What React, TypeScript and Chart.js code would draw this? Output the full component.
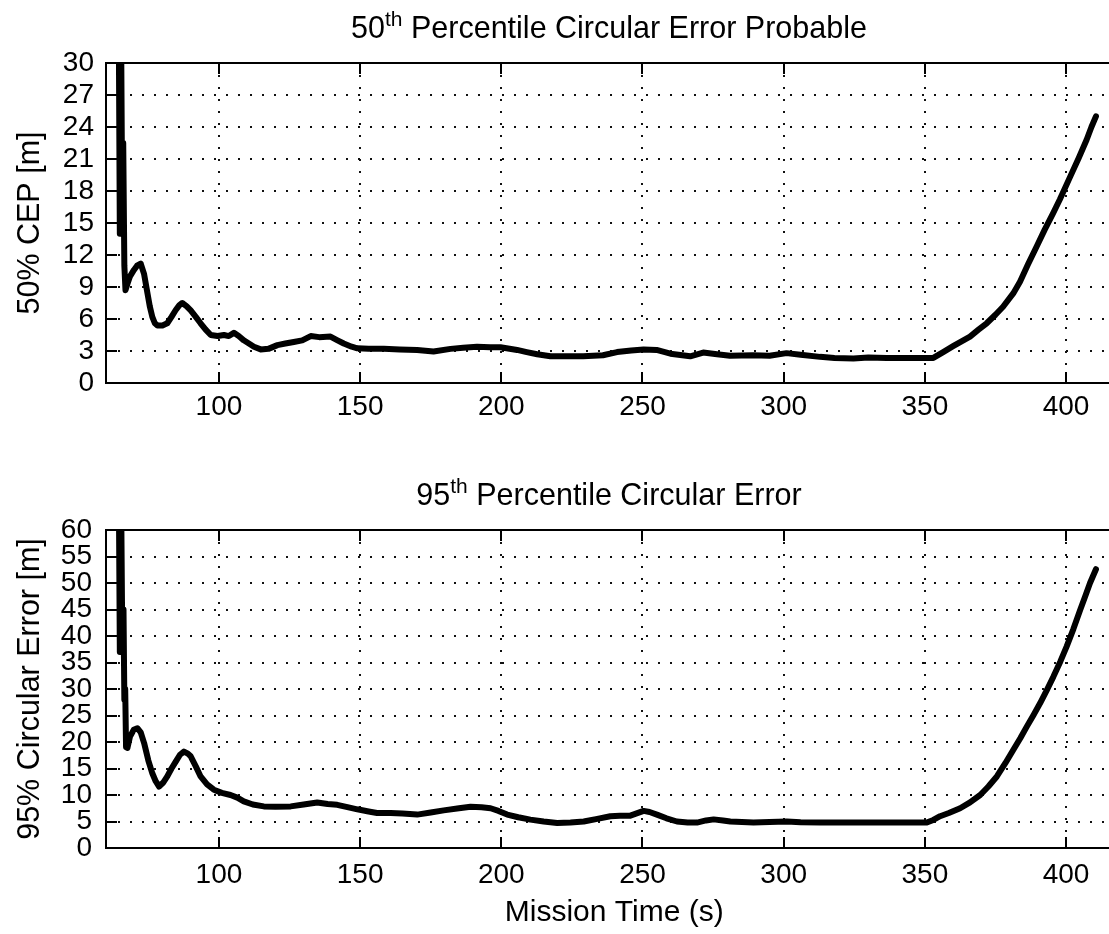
import React, { useEffect, useRef } from "react";
import { Chart, registerables } from "chart.js";

Chart.register(...registerables);

// ---------- data ----------
const timeTop = [
  64.4, 64.9, 65.3, 65.8, 66.1, 66.5, 66.9, 67.6, 68.5, 69.9, 71.0, 72.3, 73.5, 74.7, 75.5, 76.4, 77.3, 78.2,
  80.0, 81.7, 83.2, 84.7, 86.0, 87.0, 88.5, 90.0, 91.8, 93.5, 95.3, 97.1, 99.5, 101.8, 103.5, 105.3, 107.0,
  108.8, 110.6, 112.4, 114.8, 117.5, 120.7, 123.5, 126.5, 129.5, 132.5, 135.5, 139.5, 142.0, 144.2, 147.0,
  149.0, 153.0, 158.4, 164.0, 170.2, 176.0, 182.0, 186.5, 191.4, 196.0, 199.7, 205.6, 209.0, 212.7, 217.4,
  223.0, 229.0, 236.0, 241.0, 246.0, 250.4, 255.0, 259.9, 266.9, 271.5, 276.4, 281.0, 289.2, 295.0, 301.0,
  306.0, 312.9, 318.0, 324.7, 330.0, 336.5, 342.0, 348.3, 353.0, 356.5, 360.0, 363.0, 366.0, 369.0, 371.9,
  375.0, 377.7, 381.3, 383.7, 386.5, 389.6, 392.5, 395.4, 397.8, 401.4, 404.5, 407.3, 409.0, 410.6,
];
const cep50 = [
  40, 14, 35, 14, 22.5, 11, 8.7, 9.3, 10.0, 10.6, 11.0, 11.2, 10.2, 8.4, 7.2, 6.2, 5.6, 5.4,
  5.4, 5.6, 6.2, 6.84, 7.3, 7.5, 7.2, 6.8, 6.2, 5.6, 5.0, 4.5, 4.4, 4.5, 4.4, 4.7, 4.4,
  4.0, 3.7, 3.4, 3.15, 3.2, 3.55, 3.7, 3.85, 4.0, 4.4, 4.3, 4.35, 4.0, 3.7, 3.4,
  3.25, 3.2, 3.2, 3.15, 3.1, 2.95, 3.2, 3.3, 3.4, 3.35, 3.35, 3.1, 2.9, 2.7, 2.5,
  2.5, 2.5, 2.6, 2.9, 3.05, 3.15, 3.1, 2.75, 2.5, 2.85, 2.7, 2.55, 2.6, 2.55, 2.8,
  2.65, 2.45, 2.35, 2.3, 2.4, 2.35, 2.35, 2.35, 2.35, 2.9, 3.45, 3.9, 4.35, 5.0, 5.6,
  6.4, 7.15, 8.4, 9.5, 11.1, 12.8, 14.4, 15.9, 17.2, 19.3, 21.1, 22.8, 24.0, 25.0,
];

const timeBottom = [
  64.4, 64.9, 65.3, 65.8, 66.2, 66.5, 66.8, 67.1, 67.6, 68.5, 69.8, 71.1, 72.3, 73.5, 75.0, 76.4, 77.6, 78.8,
  80.2, 81.7, 83.2, 84.7, 86.2, 87.6, 89.0, 90.0, 91.8, 93.5, 95.8, 98.2, 101.0, 104.1, 106.5, 108.8,
  112.0, 115.9, 120.0, 125.4, 130.0, 134.8, 138.5, 141.9, 145.5, 149.0, 153.0, 156.0, 160.8, 165.0,
  170.2, 175.0, 179.6, 185.0, 189.1, 193.0, 196.2, 199.0, 202.1, 206.0, 210.3, 215.0, 219.8, 224.5,
  229.2, 234.0, 238.6, 242.0, 245.7, 250.4, 252.5, 255.1, 258.5, 262.2, 266.0, 269.3, 272.5, 275.2,
  278.5, 281.1, 289.3, 295.0, 301.1, 306.0, 312.9, 320.0, 328.0, 336.5, 344.0, 350.7, 353.0, 355.4,
  358.5, 362.5, 366.0, 369.6, 372.5, 375.5, 378.5, 381.3, 383.8, 386.1, 388.5, 390.8, 393.2, 395.5,
  398.0, 400.2, 402.6, 405.0, 406.8, 408.5, 410.6,
];
const ce95 = [
  80, 37, 70, 37, 45, 28, 30, 19, 18.9, 21, 22.3, 22.6, 21.8, 19.8, 16.5, 14.1, 12.6, 11.6,
  12.3, 13.5, 15.0, 16.3, 17.6, 18.2, 17.8, 17.3, 15.4, 13.5, 12.0, 11.0, 10.4, 10.0, 9.5, 8.8,
  8.2, 7.85, 7.8, 7.85, 8.2, 8.6, 8.3, 8.15, 7.7, 7.3, 6.9, 6.6, 6.6, 6.5,
  6.3, 6.7, 7.1, 7.5, 7.8, 7.7, 7.5, 7.0, 6.3, 5.8, 5.35, 5.0, 4.7, 4.8,
  5.0, 5.5, 6.0, 6.1, 6.1, 7.0, 6.8, 6.3, 5.6, 5.0, 4.8, 4.8, 5.2, 5.4,
  5.2, 5.0, 4.8, 4.9, 5.0, 4.85, 4.8, 4.8, 4.8, 4.8, 4.8, 4.8, 5.3, 6.0,
  6.6, 7.5, 8.6, 10.0, 11.6, 13.5, 16.0, 18.5, 20.7, 22.9, 25.1, 27.3, 29.8, 32.3,
  35.2, 38.0, 41.3, 44.9, 47.5, 50.0, 52.6,
];

const xTicks = [100, 150, 200, 250, 300, 350, 400];
const yTicksTop = [0, 3, 6, 9, 12, 15, 18, 21, 24, 27, 30];
const yTicksBottom = [0, 5, 10, 15, 20, 25, 30, 35, 40, 45, 50, 55, 60];

const titleTop = ["50", "th", " Percentile Circular Error Probable"];
const titleBottom = ["95", "th", " Percentile Circular Error"];
const yLabelTop = "50% CEP [m]";
const yLabelBottom = "95% Circular Error [m]";
const xLabelBottom = "Mission Time (s)";

// ---------- styling ----------
const FONT = "'Liberation Sans', Arial, Helvetica, sans-serif";
const CANVAS_W = 1130;
const AREA_LEFT = 106;
const AREA_RIGHT = 1122.5;
const X_MIN = 60;
const X_MAX = 420;

const matlabPlugin = {
  id: "matlabAxes",
  afterDraw(chart: any, _args: any, opts: any) {
    const { ctx, chartArea: a, scales } = chart;
    ctx.save();
    ctx.setLineDash([]);
    ctx.strokeStyle = "#000";
    ctx.lineWidth = 2;
    ctx.strokeRect(a.left, a.top, a.right - a.left, a.bottom - a.top);
    const tl = 11;
    ctx.beginPath();
    scales.x.ticks.forEach((t: any) => {
      const px = Math.round(scales.x.getPixelForValue(t.value));
      ctx.moveTo(px, a.bottom);
      ctx.lineTo(px, a.bottom - tl);
      ctx.moveTo(px, a.top);
      ctx.lineTo(px, a.top + tl);
    });
    scales.y.ticks.forEach((t: any) => {
      const py = Math.round(scales.y.getPixelForValue(t.value));
      ctx.moveTo(a.left, py);
      ctx.lineTo(a.left + tl, py);
      ctx.moveTo(a.right, py);
      ctx.lineTo(a.right - tl, py);
    });
    ctx.stroke();

    // title with superscript
    const parts: string[] = opts.title;
    const big = `30.5px ${FONT}`;
    const small = `21px ${FONT}`;
    ctx.fillStyle = "#000";
    ctx.textBaseline = "alphabetic";
    ctx.textAlign = "left";
    ctx.font = big;
    const w0 = ctx.measureText(parts[0]).width;
    const w2 = ctx.measureText(parts[2]).width;
    ctx.font = small;
    const w1 = ctx.measureText(parts[1]).width;
    const total = w0 + w1 + w2;
    let x = opts.centerX - total / 2;
    const y = opts.baseline;
    ctx.font = big;
    ctx.fillText(parts[0], x, y);
    x += w0;
    ctx.font = small;
    ctx.fillText(parts[1], x, y - 12);
    x += w1;
    ctx.font = big;
    ctx.fillText(parts[2], x, y);
    ctx.restore();
  },
};

function makeConfig(p: {
  times: number[];
  values: number[];
  yTicks: number[];
  yMax: number;
  yLabel: string;
  xLabel: string | null;
  title: string[];
  height: number;
  areaTop: number;
  areaBottom: number;
  xTickPad: number;
  yTickPad: number;
  titleBaseline: number;
}): any {
  const points = p.times.map((t, i) => ({ x: t, y: p.values[i] }));
  return {
    type: "line",
    data: {
      datasets: [
        {
          data: points,
          borderColor: "#000",
          borderWidth: 6,
          pointRadius: 0,
          tension: 0,
          clip: 0,
          borderJoinStyle: "round",
          borderCapStyle: "round",
        },
      ],
    },
    plugins: [matlabPlugin],
    options: {
      animation: false,
      responsive: false,
      devicePixelRatio: 1,
      layout: {
        padding: { top: p.areaTop, left: 0, right: CANVAS_W - AREA_RIGHT, bottom: 0 },
      },
      plugins: {
        legend: { display: false },
        tooltip: { enabled: false },
        matlabAxes: { title: p.title, baseline: p.titleBaseline, centerX: 609 },
      },
      scales: {
        x: {
          type: "linear",
          min: X_MIN,
          max: X_MAX,
          afterBuildTicks: (axis: any) => {
            axis.ticks = xTicks.map((v) => ({ value: v }));
          },
          afterFit: (axis: any) => {
            axis.height = p.height - p.areaBottom;
          },
          ticks: {
            autoSkip: false,
            maxRotation: 0,
            padding: p.xTickPad,
            color: "#000",
            font: { family: FONT, size: 28 },
          },
          grid: { color: "#111", lineWidth: 2, drawTicks: false },
          border: { display: false, dash: [2, 10] },
          title: p.xLabel
            ? {
                display: true,
                text: p.xLabel,
                color: "#000",
                font: { family: FONT, size: 30 },
                padding: { top: 0, bottom: 3 },
              }
            : { display: false },
        },
        y: {
          type: "linear",
          min: 0,
          max: p.yMax,
          afterBuildTicks: (axis: any) => {
            axis.ticks = p.yTicks.map((v) => ({ value: v }));
          },
          afterFit: (axis: any) => {
            axis.width = AREA_LEFT;
          },
          ticks: {
            autoSkip: false,
            padding: p.yTickPad,
            color: "#000",
            font: { family: FONT, size: 28 },
          },
          grid: { color: "#111", lineWidth: 2, drawTicks: false },
          border: { display: false, dash: [2, 10] },
          title: {
            display: true,
            text: p.yLabel,
            color: "#000",
            font: { family: FONT, size: 30.5 },
            padding: { top: 12, bottom: 0 },
          },
        },
      },
    },
  };
}

function Plot({ config, width, height }: { config: any; width: number; height: number }) {
  const ref = useRef<HTMLCanvasElement | null>(null);
  useEffect(() => {
    if (!ref.current) return;
    const chart = new Chart(ref.current, config);
    return () => chart.destroy();
  }, []);
  return (
    <canvas
      ref={ref}
      width={width}
      height={height}
      style={{ display: "block", width: `${width}px`, height: `${height}px` }}
    />
  );
}

export default function App() {
  const topH = 440;
  const botH = 494;
  const topCfg = makeConfig({
    times: timeTop,
    values: cep50,
    yTicks: yTicksTop,
    yMax: 30,
    yLabel: yLabelTop,
    xLabel: null,
    title: titleTop,
    height: topH,
    areaTop: 63,
    areaBottom: 383,
    xTickPad: 7,
    yTickPad: 12,
    titleBaseline: 38,
  });
  const botCfg = makeConfig({
    times: timeBottom,
    values: ce95,
    yTicks: yTicksBottom,
    yMax: 60,
    yLabel: yLabelBottom,
    xLabel: xLabelBottom,
    title: titleBottom,
    height: botH,
    areaTop: 90,
    areaBottom: 408,
    xTickPad: 10,
    yTickPad: 14,
    titleBaseline: 65,
  });
  return (
    <div
      style={{
        position: "fixed",
        left: 0,
        top: 0,
        width: `${CANVAS_W}px`,
        height: "934px",
        background: "#fff",
      }}
    >
      <Plot config={topCfg} width={CANVAS_W} height={topH} />
      <Plot config={botCfg} width={CANVAS_W} height={botH} />
    </div>
  );
}
